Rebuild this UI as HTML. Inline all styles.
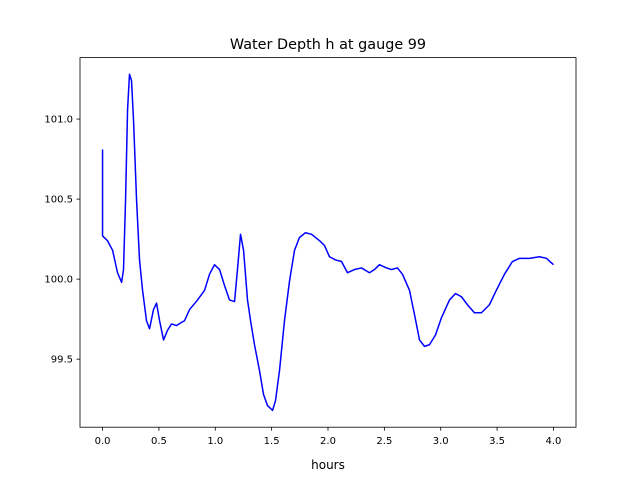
<!DOCTYPE html>
<html><head><meta charset="utf-8"><style>
body{margin:0;background:#fff;font-family:"DejaVu Sans","Liberation Sans",sans-serif;}
svg text{font-family:"DejaVu Sans","Liberation Sans",sans-serif;}
</style></head><body>
<svg id="chart" width="640" height="480" viewBox="0 0 640 480" xmlns="http://www.w3.org/2000/svg">
<rect width="640" height="480" fill="#fff"/>
<text x="328" y="49" text-anchor="middle" font-size="14.4">Water Depth h at gauge 99</text>
<g id="plot"></g>
<text x="328" y="469" text-anchor="middle" font-size="12">hours</text>
</svg>
<script>
const times=[0,0,0.044,0.089,0.133,0.169,0.186,0.204,0.222,0.239,0.257,0.275,0.302,0.328,0.355,0.390,0.417,0.452,0.479,0.506,0.541,0.576,0.612,0.656,0.701,0.727,0.772,0.843,0.905,0.949,0.993,1.038,1.082,1.126,1.171,1.197,1.224,1.251,1.286,1.313,1.348,1.392,1.428,1.463,1.508,1.534,1.570,1.614,1.659,1.703,1.747,1.800,1.854,1.925,1.969,2.013,2.067,2.120,2.173,2.235,2.297,2.368,2.412,2.457,2.519,2.563,2.616,2.661,2.723,2.767,2.812,2.856,2.900,2.953,3.007,3.078,3.131,3.184,3.237,3.299,3.361,3.432,3.486,3.565,3.636,3.698,3.787,3.876,3.938,4.0];
const depths=[100.81,100.27,100.24,100.18,100.04,99.98,100.06,100.49,101.06,101.28,101.24,100.99,100.49,100.12,99.93,99.74,99.69,99.81,99.85,99.74,99.62,99.68,99.72,99.71,99.73,99.74,99.81,99.87,99.93,100.03,100.09,100.06,99.96,99.87,99.86,100.06,100.28,100.18,99.87,99.74,99.59,99.43,99.28,99.21,99.18,99.24,99.43,99.74,99.99,100.18,100.26,100.29,100.28,100.24,100.21,100.14,100.12,100.11,100.04,100.06,100.07,100.04,100.06,100.09,100.07,100.06,100.07,100.03,99.93,99.78,99.62,99.58,99.59,99.65,99.76,99.87,99.91,99.89,99.84,99.79,99.79,99.84,99.92,100.03,100.11,100.13,100.13,100.14,100.13,100.09];
const xTicks=[0,0.5,1,1.5,2,2.5,3,3.5,4];
const xTickLabels=["0.0","0.5","1.0","1.5","2.0","2.5","3.0","3.5","4.0"];
const yTicks=[99.5,100,100.5,101];
const yTickLabels=["99.5","100.0","100.5","101.0"];
const L=80,R=576,T=57.6,B=427.2;
const xMin=-0.2,xMax=4.2,yMin=99.075,yMax=101.384;
const sx=v=>L+(v-xMin)/(xMax-xMin)*(R-L);
const sy=v=>B-(v-yMin)/(yMax-yMin)*(B-T);
const NS="http://www.w3.org/2000/svg";
const g=document.getElementById('plot');
function mk(tag,attrs){const e=document.createElementNS(NS,tag);for(const k in attrs)e.setAttribute(k,attrs[k]);g.appendChild(e);return e;}
const pts=times.map((t,i)=>sx(t).toFixed(2)+','+sy(depths[i]).toFixed(2)).join(' ');
const line=mk('polyline',{points:pts,fill:'none',stroke:'#0000ff','stroke-width':1.5,'stroke-linejoin':'round'});


const frame=mk('rect',{x:L,y:T,width:R-L,height:B-T,fill:'none',stroke:'#000','stroke-width':0.8});


xTicks.forEach((v,i)=>{const x=sx(v);
 const tk=mk('line',{x1:x,x2:x,y1:B,y2:B+3.5,stroke:'#000','stroke-width':0.8});
 
 
 const tx=mk('text',{x:x,y:B+17,'text-anchor':'middle','font-size':10});tx.textContent=xTickLabels[i];
 
 
});
yTicks.forEach((v,i)=>{const y=sy(v);
 const tk=mk('line',{x1:L-3.5,x2:L,y1:y,y2:y,stroke:'#000','stroke-width':0.8});
 
 
 const tx=mk('text',{x:L-7,y:y+3.5,'text-anchor':'end','font-size':10});tx.textContent=yTickLabels[i];
 
 
});
</script>
</body></html>
